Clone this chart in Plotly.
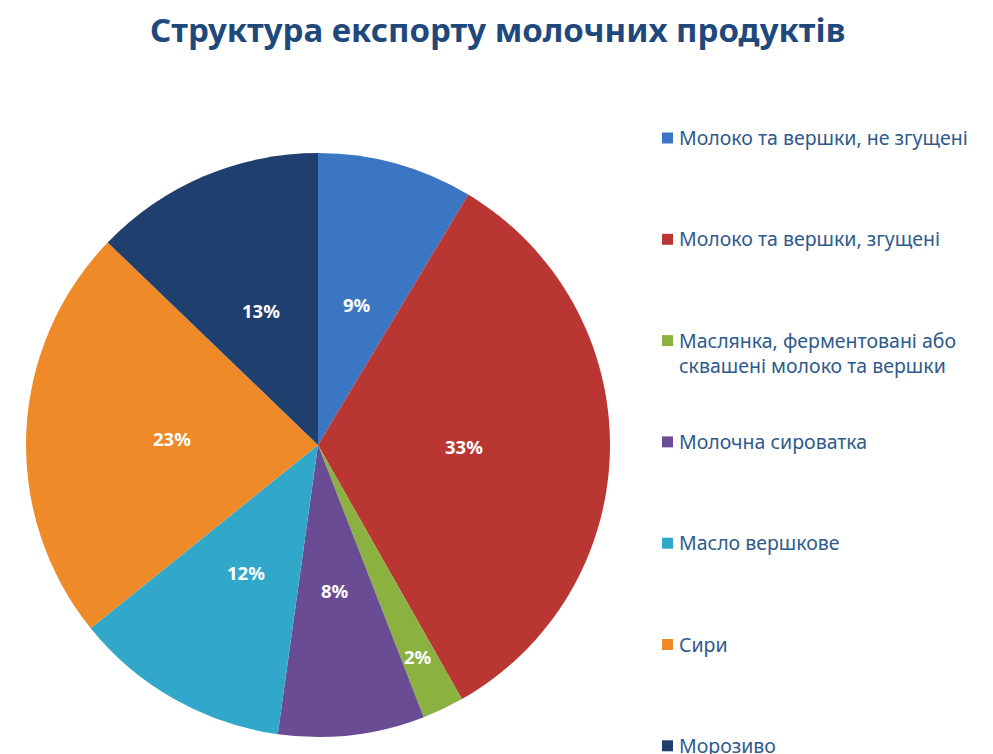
import math
import plotly.graph_objects as go

# Дані (оцінено з діаграми), %
categories = [
    'Молоко та вершки, не згущені',
    'Молоко та вершки, згущені',
    'Маслянка, ферментовані або<br>сквашені молоко та вершки',
    'Молочна сироватка',
    'Масло вершкове',
    'Сири',
    'Морозиво',
]
shares = [8.6, 33.2, 2.3, 8.1, 12.0, 23.0, 12.8]
colors = ['#3A76C1', '#BA3633', '#8BB141', '#6A4C94', '#31A8C9', '#EE8A27', '#1F3F6E']

TITLE = 'Структура експорту молочних продуктів'
TEXT_COLOR = '#2E5A8C'
FONT = 'Noto Sans'

W, H = 993, 754
OFF = 8  # відступ body у сторінці


def px(x):
    return (x - OFF) / W


def py(y):
    return 1 - (y - OFF) / H


# геометрія круга (у пікселях вікна)
CX, CY, R = 318, 445, 292

fig = go.Figure(go.Pie(
    labels=categories,
    values=shares,
    sort=False,
    direction='clockwise',
    rotation=0,
    marker=dict(colors=colors, line=dict(width=0)),
    textinfo='none',
    domain=dict(x=[px(CX - R), px(CX + R)], y=[py(CY + R), py(CY - R)]),
    showlegend=False,
    hoverinfo='label+percent',
))

annotations = []
shapes = []

# підписи відсотків усередині секторів
total = sum(shares)
acc = 0.0
for v in shares:
    mid = (acc + v / 2) / total * 2 * math.pi
    acc += v
    k = 0.8 if v / total < 0.05 else 0.5
    x = CX + k * R * math.sin(mid)
    y = CY - k * R * math.cos(mid)
    annotations.append(dict(
        text='<b>%d%%</b>' % round(v / total * 100),
        xref='paper', yref='paper', x=px(x), y=py(y),
        xanchor='center', yanchor='middle', showarrow=False,
        font=dict(family=FONT, size=18.5, color='white'),
    ))

# легенда праворуч: квадратики та підписи
legend_top = 138
legend_step = 101.3
for i, (name, col) in enumerate(zip(categories, colors)):
    yc = legend_top + legend_step * i
    shapes.append(dict(
        type='rect', xref='paper', yref='paper',
        x0=px(662), x1=px(673), y0=py(yc + 5.5), y1=py(yc - 5.5),
        fillcolor=col, line=dict(width=0),
    ))
    annotations.append(dict(
        text=name, xref='paper', yref='paper',
        x=px(677), y=py(yc - 16),
        xanchor='left', yanchor='top', align='left',
        showarrow=False,
        font=dict(family=FONT, size=19.5, color=TEXT_COLOR),
    ))

annotations.append(dict(
    text='<b>' + TITLE + '</b>', xref='paper', yref='paper',
    x=px(497), y=py(30), xanchor='center', yanchor='middle',
    showarrow=False,
    font=dict(family=FONT, size=33, color='#1F497D'),
))

fig.update_layout(
    width=W,
    height=H,
    margin=dict(l=0, r=0, t=0, b=0),
    paper_bgcolor='white',
    plot_bgcolor='white',
    annotations=annotations,
    shapes=shapes,
)

fig.write_html('out.html')
